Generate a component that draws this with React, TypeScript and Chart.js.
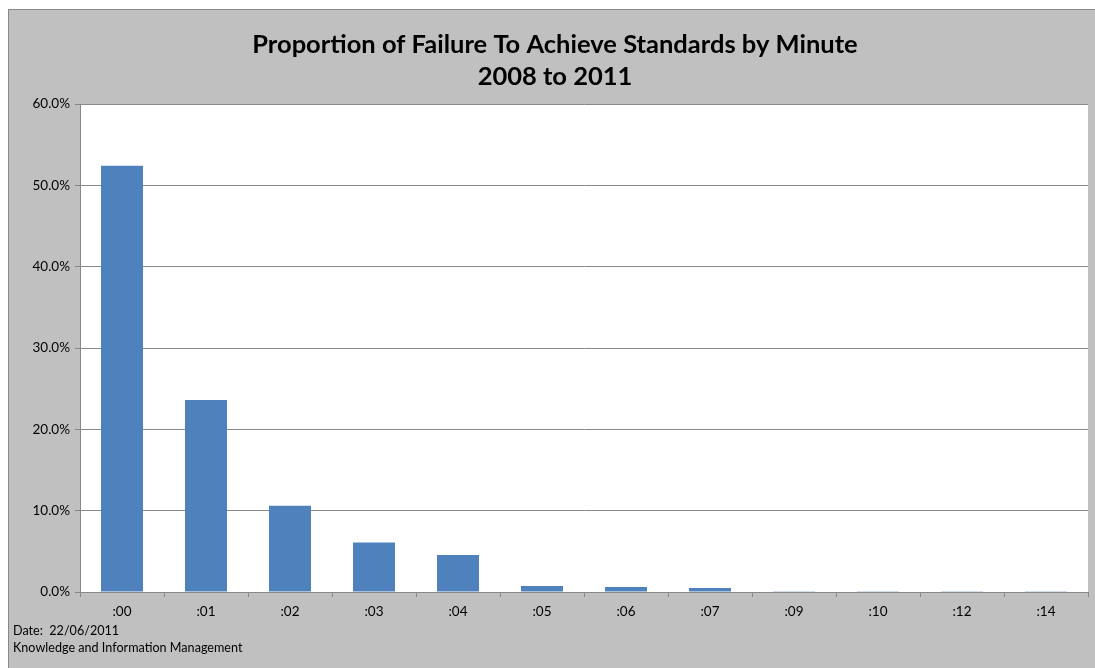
import React, { useEffect, useRef } from "react";
import { Chart, registerables } from "chart.js";

Chart.register(...registerables);

const categories = [":00", ":01", ":02", ":03", ":04", ":05", ":06", ":07", ":09", ":10", ":12", ":14"];
const failureProportion = [52.4, 23.6, 10.6, 6.1, 4.55, 0.74, 0.61, 0.49, 0.04, 0.04, 0.04, 0.04];
const titleLines = ["Proportion of Failure To Achieve Standards by Minute", "2008 to 2011"];
const footerLines = ["Date:  22/06/2011", "Knowledge and Information Management"];

const FONT = "Lato, 'Open Sans', sans-serif";

const textPlugin = {
  id: "textPlugin",
  afterDraw(chart: any) {
    const ctx = chart.ctx;
    ctx.save();
    ctx.fillStyle = "#000";
    ctx.textAlign = "center";
    ctx.textBaseline = "middle";
    ctx.font = `bold 25.5px ${FONT}`;
    ctx.fillText(titleLines[0], 546, 35);
    ctx.fillText(titleLines[1], 546, 67);
    ctx.textAlign = "left";
    ctx.font = `12.6px ${FONT}`;
    ctx.fillText(footerLines[0], 4, 621);
    ctx.fillText(footerLines[1], 4, 638);
    ctx.restore();
  },
};

export default function App() {
  const ref = useRef<HTMLCanvasElement>(null);
  useEffect(() => {
    document.documentElement.style.overflow = "hidden";
    document.body.style.overflow = "hidden";
    document.body.style.margin = "8px 0 0 8px";
    if (!ref.current) return;
    const chart = new Chart(ref.current, {
      type: "bar",
      data: {
        labels: categories,
        datasets: [
          {
            data: failureProportion,
            backgroundColor: "#4f81bd",
            barPercentage: 0.5,
            categoryPercentage: 1,
          },
        ],
      },
      options: {
        animation: false,
        responsive: false,
        layout: { padding: { left: 0, right: 7, top: 94, bottom: 0 } },
        plugins: { legend: { display: false }, title: { display: false }, tooltip: { enabled: false } },
        scales: {
          x: {
            afterFit: (s: any) => {
              s.height = 76;
            },
            grid: { offset: true, drawOnChartArea: false, color: "#888", tickLength: 5 },
            border: { color: "#888" },
            ticks: { color: "#000", font: { family: FONT, size: 13.5 }, padding: 7 },
          },
          y: {
            min: 0,
            max: 60,
            afterFit: (s: any) => {
              s.width = 71;
            },
            grid: { color: "#888", tickLength: 5 },
            border: { color: "#888" },
            ticks: {
              stepSize: 10,
              color: "#000",
              font: { family: FONT, size: 13.5 },
              padding: 5,
              callback: (v: any) => Number(v).toFixed(1) + "%",
            },
          },
        },
      },
      plugins: [
        {
          id: "plotBg",
          beforeDraw(c: any) {
            const a = c.chartArea;
            c.ctx.save();
            c.ctx.fillStyle = "#fff";
            c.ctx.fillRect(a.left, a.top, a.right - a.left, a.bottom - a.top);
            c.ctx.restore();
          },
        },
        textPlugin,
      ],
    });
    return () => chart.destroy();
  }, []);
  return (
    <div
      style={{
        width: 1087,
        height: 659,
        borderTop: "1px solid #888",
        borderLeft: "1px solid #888",
        boxSizing: "border-box",
        background: "#c0c0c0",
        marginTop: 1,
      }}
    >
      <canvas ref={ref} width={1086} height={658} style={{ display: "block" }} />
    </div>
  );
}
